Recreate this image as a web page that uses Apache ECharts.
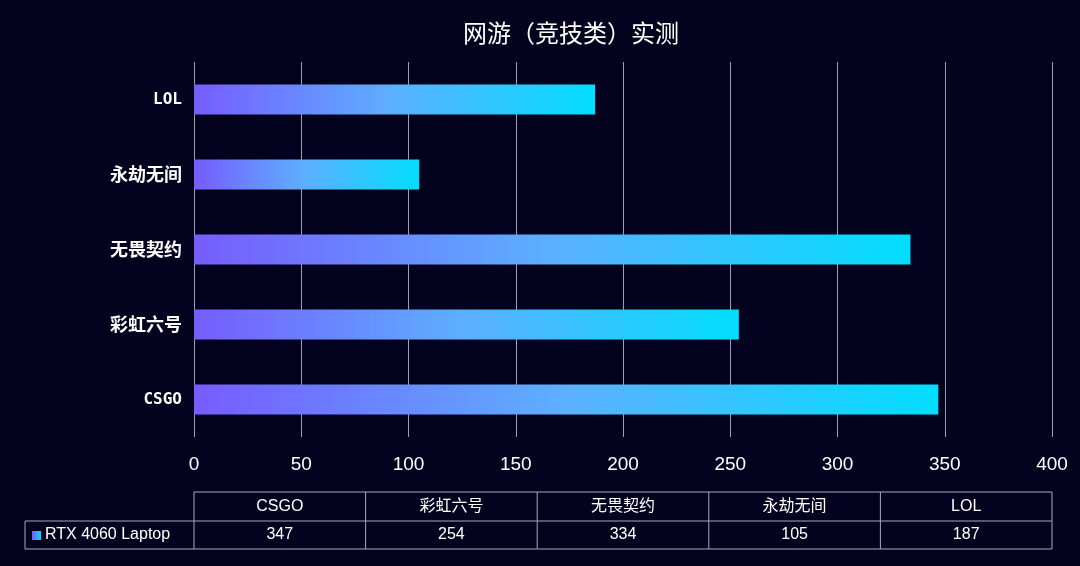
<!DOCTYPE html>
<html><head><meta charset="utf-8">
<script src="https://cdn.jsdelivr.net/npm/echarts@6/dist/echarts.min.js"></script>
<style>html,body{margin:0;padding:0;background:#03031f;}#c{width:1080px;height:566px;}</style>
</head><body><div id="c"></div>
<script>
var categories = ['CSGO', '彩虹六号', '无畏契约', '永劫无间', 'LOL'];
var seriesName = 'RTX 4060 Laptop';
var values = [347, 254, 334, 105, 187];
var xTicks = [0, 50, 100, 150, 200, 250, 300, 350, 400];

var chart = echarts.init(document.getElementById('c'));
var gridL = 194, gridR = 1052, gridT = 62, gridB = 437;
var barGrad = new echarts.graphic.LinearGradient(0, 0, 1, 0, [
  {offset: 0, color: '#775cff'},
  {offset: 0.5, color: '#5cb0ff'},
  {offset: 1, color: '#02ddfe'}
]);

// data table graphics
var g = [];
var rowT = 492, rowM = 521, rowB = 549, legL = 25;
var colW = (gridR - gridL) / categories.length;
var lineStyle = {stroke: '#a8a8b8', lineWidth: 1};
function line(x1, y1, x2, y2) {
  g.push({type: 'line', shape: {x1: x1, y1: y1, x2: x2, y2: y2}, style: lineStyle, silent: true});
}
line(gridL, rowT, gridR, rowT);
line(legL, rowM, gridR, rowM);
line(legL, rowB, gridR, rowB);
line(legL, rowM, legL, rowB);
for (var i = 0; i <= categories.length; i++) {
  line(gridL + i * colW, rowT, gridL + i * colW, rowB);
}
categories.forEach(function (c, i) {
  g.push({type: 'text', x: gridL + (i + 0.5) * colW, y: (rowT + rowM) / 2,
    style: {text: c, fill: '#ffffff', font: '16px "Liberation Sans", "Noto Sans CJK SC", sans-serif', textAlign: 'center', textVerticalAlign: 'middle'}});
  g.push({type: 'text', x: gridL + (i + 0.5) * colW, y: (rowM + rowB) / 2,
    style: {text: String(values[i]), fill: '#ffffff', font: '16px "Liberation Sans", sans-serif', textAlign: 'center', textVerticalAlign: 'middle'}});
});
g.push({type: 'rect', shape: {x: 32, y: 531, width: 9, height: 9},
  style: {fill: new echarts.graphic.LinearGradient(0, 0, 1, 0, [{offset: 0, color: '#775cff'}, {offset: 1, color: '#02ddfe'}])}});
g.push({type: 'text', x: 45, y: (rowM + rowB) / 2,
  style: {text: seriesName, fill: '#ffffff', font: '16px "Liberation Sans", sans-serif', textAlign: 'left', textVerticalAlign: 'middle'}});

chart.setOption({
  backgroundColor: '#03031f',
  animation: false,
  title: {
    text: '网游（竞技类）实测', left: 458, top: 16,
    textStyle: {color: '#ffffff', fontSize: 24, fontWeight: 'normal', fontFamily: '"Noto Sans CJK SC", sans-serif'}
  },
  grid: {left: gridL, right: 1080 - gridR, top: gridT, bottom: 566 - gridB, containLabel: false},
  xAxis: {
    type: 'value', min: 0, max: 400, interval: 50,
    axisLine: {show: false}, axisTick: {show: false},
    axisLabel: {color: '#ffffff', fontSize: 19, margin: 18, fontFamily: '"Liberation Sans", sans-serif',
      formatter: function (v) { return xTicks.indexOf(v) >= 0 ? String(v) : ''; }},
    splitLine: {show: true, lineStyle: {color: '#a0a0ae', width: 1}}
  },
  yAxis: {
    type: 'category', data: categories,
    axisLine: {show: false}, axisTick: {show: false},
    axisLabel: {
      margin: 12,
      formatter: function (v) { return /^[A-Za-z0-9 ]+$/.test(v) ? '{lat|' + v + '}' : '{cjk|' + v + '}'; },
      rich: {
        lat: {color: '#ffffff', fontSize: 16, fontWeight: 'bold', fontFamily: '"DejaVu Sans Mono", monospace'},
        cjk: {color: '#ffffff', fontSize: 18, fontWeight: 'bold', fontFamily: '"Noto Sans CJK SC", sans-serif'}
      }
    }
  },
  series: [{
    name: seriesName, type: 'bar', data: values, barWidth: 30,
    itemStyle: {color: barGrad}
  }],
  graphic: g
});
</script></body></html>
